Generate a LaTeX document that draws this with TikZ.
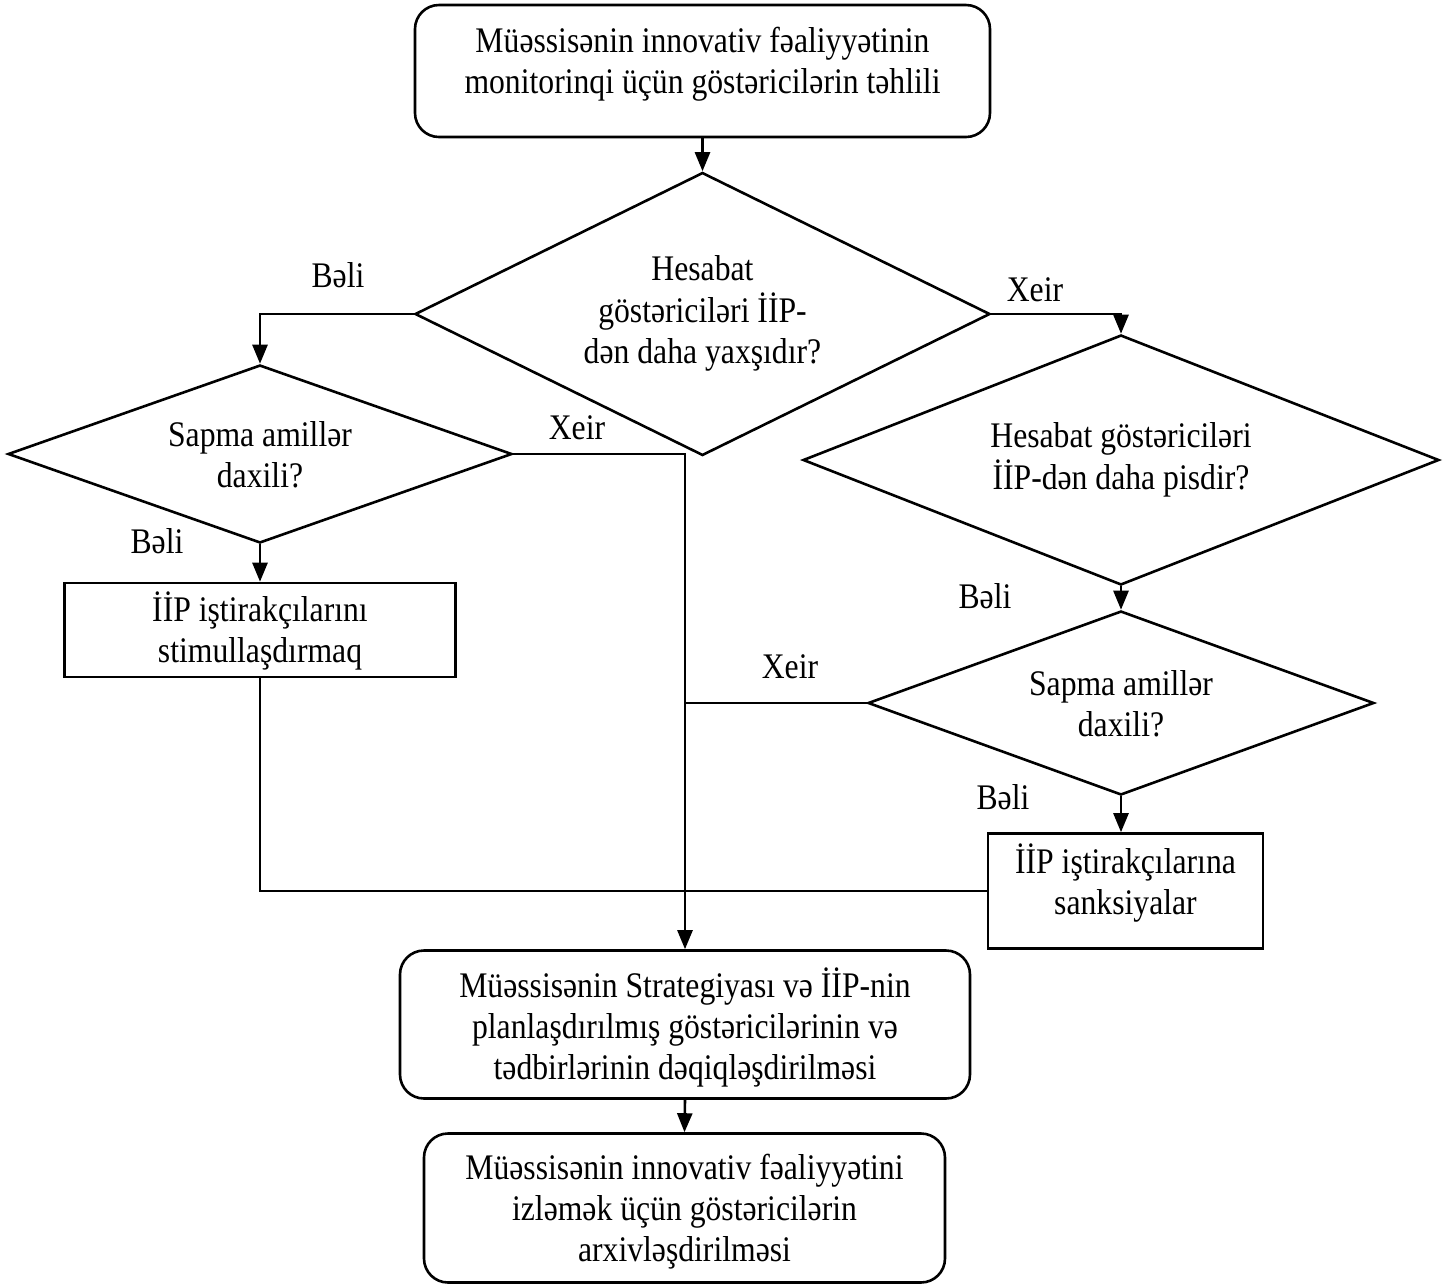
\documentclass[tikz,border=0pt]{standalone}
\usepackage{fontspec}
\setmainfont{Liberation Serif}[FakeStretch=0.88]
\usetikzlibrary{shapes.geometric,arrows.meta}
% multi-line text whose ink is shifted vertically without moving the node's centre
\newcommand{\shiftlines}[2]{\raisebox{#1}[\height][\depth]{\begin{tabular}{@{}c@{}}#2\end{tabular}}}
\begin{document}
\begin{tikzpicture}[x=0.5pt,y=-0.5pt,
  every node/.style={font=\fontsize{18pt}{20.5pt}\selectfont, align=center},
  base/.style={draw, line width=1.3pt, inner sep=0pt},
  rbox/.style={base, rectangle, rounded corners=12pt},
  pbox/.style={base, rectangle},
  decision/.style={base, diamond, shape aspect=2},
  lbl/.style={inner sep=0pt},
  conn/.style={line width=1.3pt},
  arr/.style={conn, -{Triangle[length=9.5pt,width=7.5pt]}}
]
\useasboundingbox (0,0) rectangle (1448,1287);

% process boxes and decisions
\node[rbox, minimum width=287.5pt, minimum height=66pt] (start) at (702.5,71)
  {\shiftlines{3pt}{Müəssisənin innovativ fəaliyyətinin\\monitorinqi üçün göstəricilərin təhlili}};
\node[decision, minimum width=287.5pt, minimum height=141.5pt] (better) at (702.5,314)
  {\shiftlines{0pt}{Hesabat\\göstəriciləri İİP-\\dən daha yaxşıdır?}};
\node[decision, minimum width=252pt, minimum height=89pt] (intL) at (260,454)
  {\shiftlines{-2.5pt}{Sapma amillər\\daxili?}};
\node[pbox, minimum width=195.5pt, minimum height=47pt] (stim) at (260,630)
  {\shiftlines{-1.5pt}{İİP iştirakçılarını\\stimullaşdırmaq}};
\node[decision, minimum width=318pt, minimum height=125pt] (worse) at (1121,460)
  {\shiftlines{0pt}{Hesabat göstəriciləri\\İİP-dən daha pisdir?}};
\node[decision, minimum width=253pt, minimum height=92pt] (intR) at (1121,703)
  {\shiftlines{-2.5pt}{Sapma amillər\\daxili?}};
\node[pbox, minimum width=137.5pt, minimum height=57.5pt] (sanc) at (1125.5,891)
  {\shiftlines{3pt}{İİP iştirakçılarına\\sanksiyalar}};
\node[rbox, minimum width=285pt, minimum height=74pt] (refine) at (685,1024.5)
  {\shiftlines{-2.5pt}{Müəssisənin Strategiyası və İİP-nin\\planlaşdırılmış göstəricilərinin və\\tədbirlərinin dəqiqləşdirilməsi}};
\node[rbox, minimum width=260.5pt, minimum height=74.5pt] (archive) at (684.5,1208)
  {\shiftlines{-2pt}{Müəssisənin innovativ fəaliyyətini\\izləmək üçün göstəricilərin\\arxivləşdirilməsi}};

% branch labels
\node[lbl] (l1) at (338,275) {Bəli};
\node[lbl] (l2) at (577,428) {Xeir};
\node[lbl] (l3) at (157,541) {Bəli};
\node[lbl] (l4) at (1035,290) {Xeir};
\node[lbl] (l5) at (985,596) {Bəli};
\node[lbl] (l6) at (790,667) {Xeir};
\node[lbl] (l7) at (1003,797) {Bəli};

% connectors
\draw[arr] (start.south -| better.north) -- (better.north);
\draw[arr] (better.west) -| (intL.north);
\draw[arr] (better.east) -| (worse.north);
\draw[arr] (intL.east) -| (refine.north);
\draw[arr] (intL.south) -- (stim.north);
\draw[conn] (stim.south) |- (sanc.west);
\draw[arr] (worse.south) -- (intR.north);
\coordinate (join) at (intR.west -| refine.north);
\draw[conn] (intR.west) -- (join);
\draw[arr] (intR.south) -- (intR.south |- sanc.north);
\draw[arr] (refine.south) -- (archive.north);
\end{tikzpicture}
\end{document}
